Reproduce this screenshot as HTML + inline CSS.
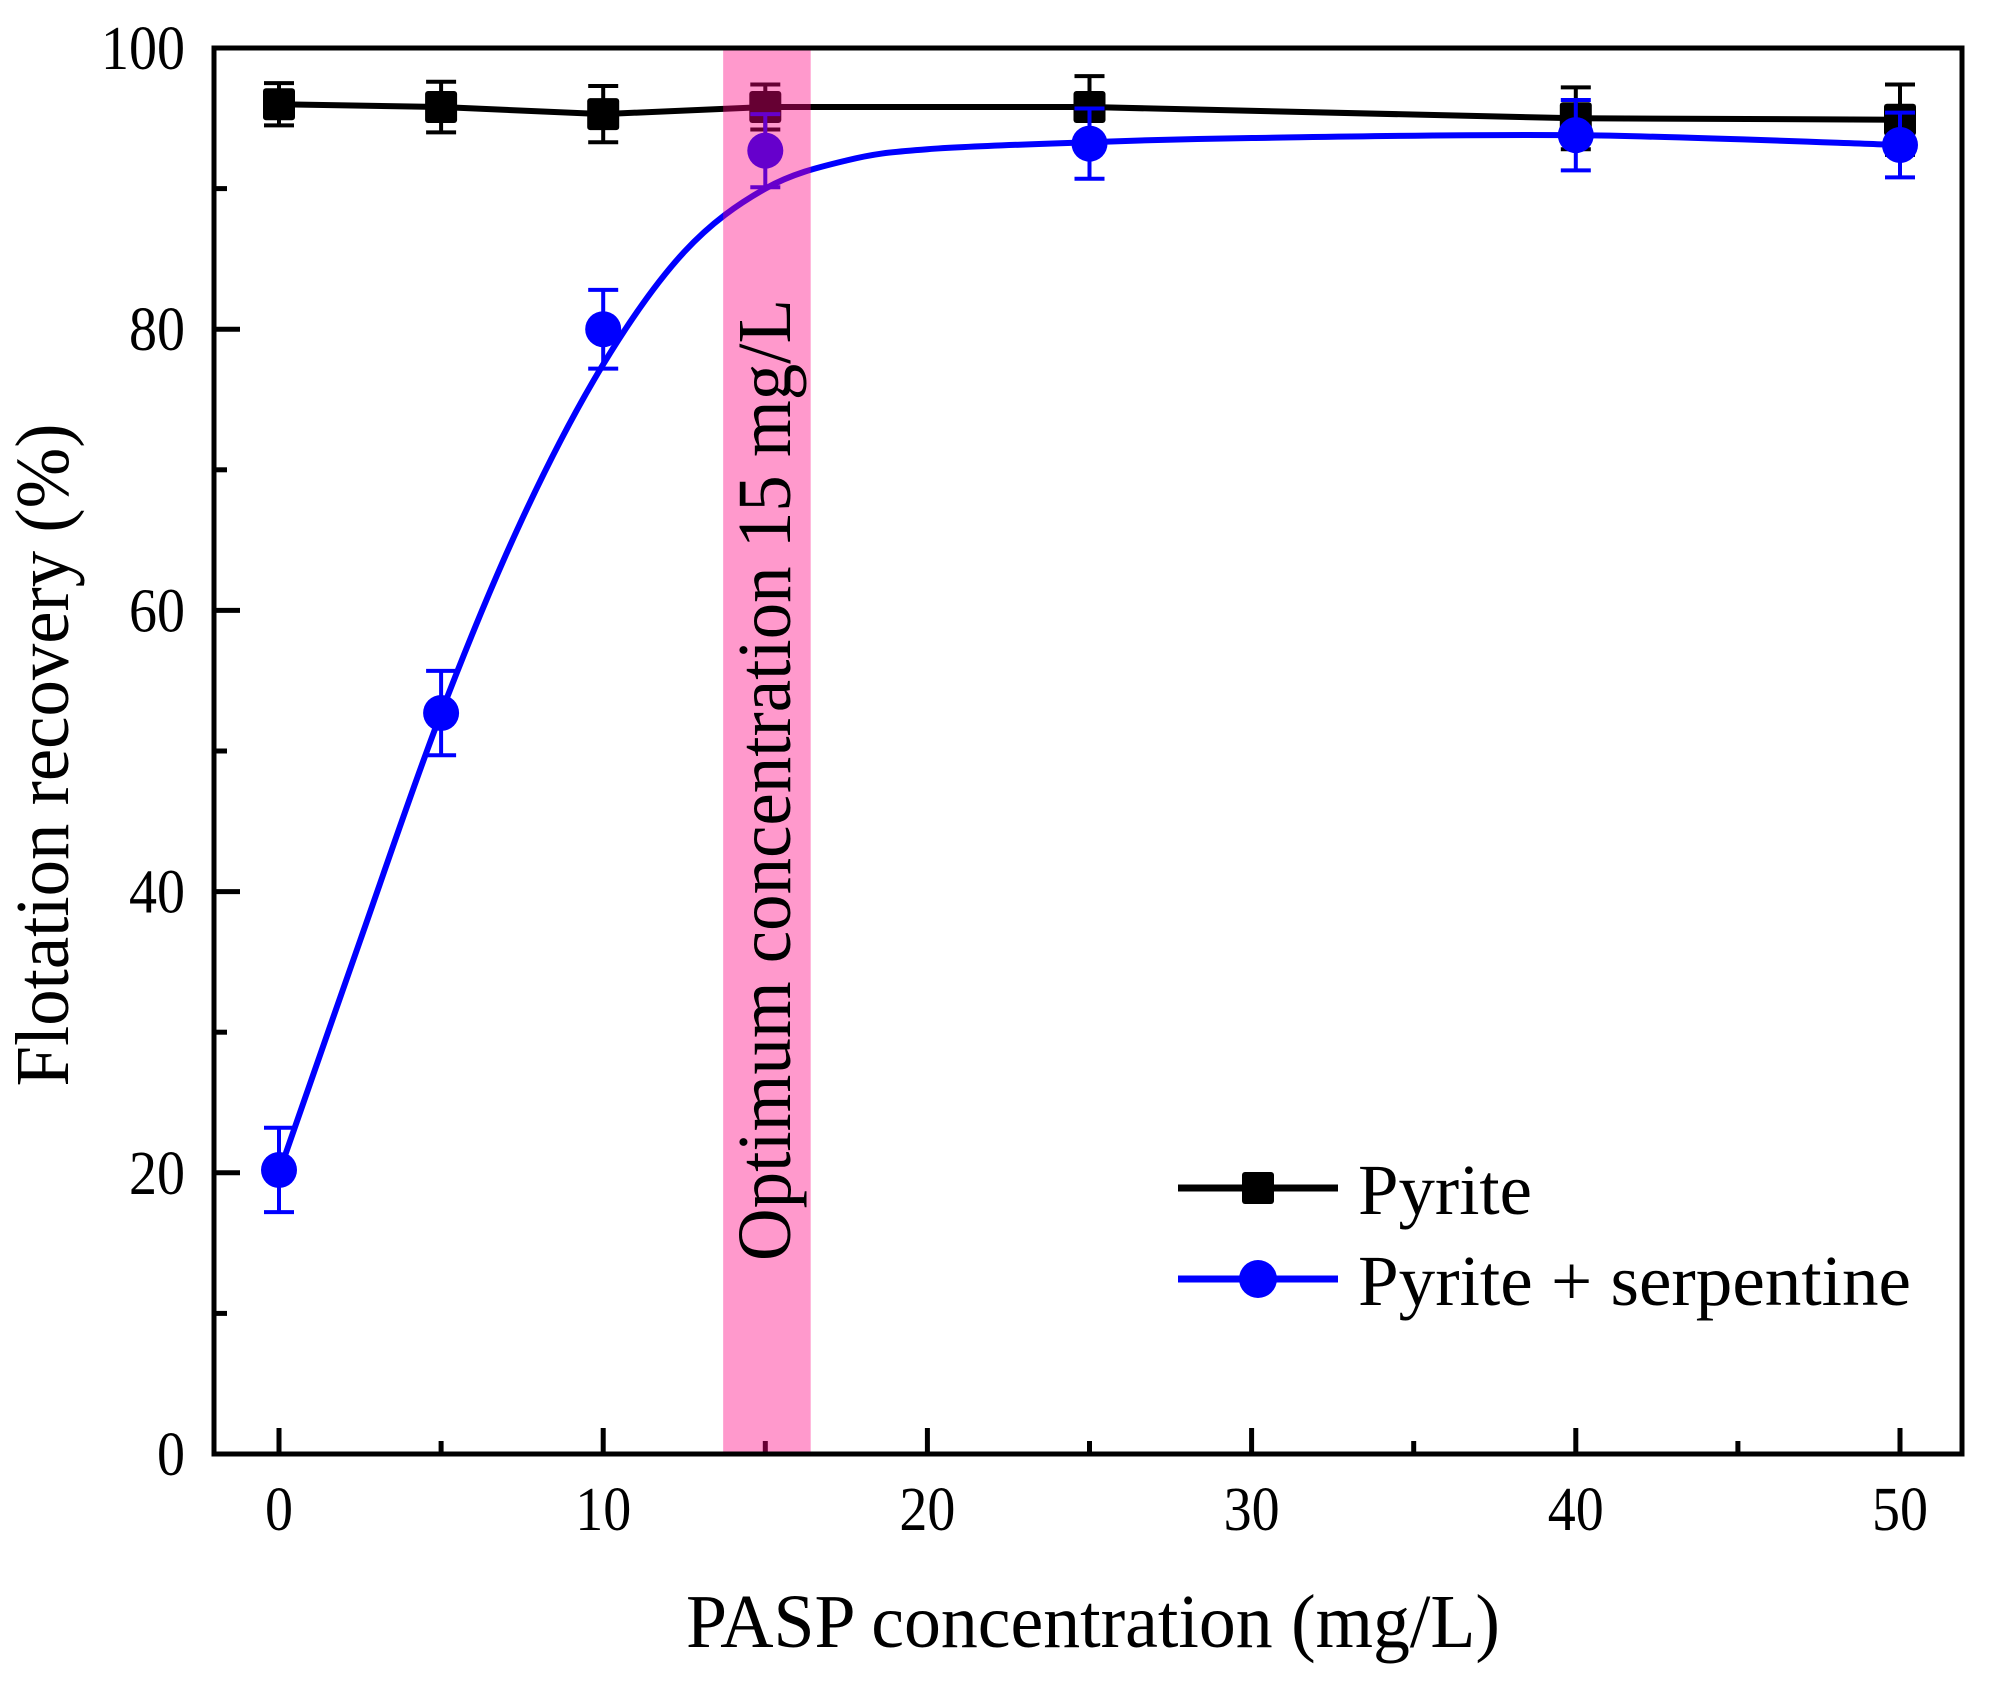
<!DOCTYPE html>
<html><head><meta charset="utf-8"><style>
html,body{margin:0;padding:0;background:#fff;}
svg{display:block;font-family:"Liberation Serif",serif;}
</style></head><body>
<svg id="chart" width="1998" height="1688" viewBox="0 0 1998 1688"></svg>
<script>
const categories = [0, 5, 10, 15, 25, 40, 50];
const pyriteValues = [96.0, 95.8, 95.3, 95.8, 95.8, 95.0, 94.9];
const pyriteErrors = [1.5, 1.8, 2.0, 1.6, 2.2, 2.2, 2.5];
const serpValues = [20.2, 52.7, 80.0, 92.7, 93.2, 93.8, 93.1];
const serpErrors = [3.0, 3.0, 2.8, 2.6, 2.5, 2.5, 2.3];
const fitX = [0, 2.5, 5, 7.5, 10, 12.5, 15, 17.5, 20, 25, 30, 40, 50];
const fitY = [20, 36.5, 52.7, 66.5, 77.5, 85.5, 90, 92, 92.8, 93.3, 93.6, 93.8, 93.1];
const xTicks = [0, 10, 20, 30, 40, 50];
const yTicks = [0, 20, 40, 60, 80, 100];
const bandRange = [13.7, 16.4];

const NS = "http://www.w3.org/2000/svg";
const svg = document.getElementById("chart");
const L = 214, R = 1962, T = 48, B = 1454;
const x = v => 279 + v * (1900 - 279) / 50;
const y = v => B - v * (B - T) / 100;
function mk(tag, attrs, parent) {
  const e = document.createElementNS(NS, tag);
  for (const k in attrs) e.setAttribute(k, attrs[k]);
  (parent || svg).appendChild(e);
  return e;
}
function line(x1, y1, x2, y2, col, w, p) { return mk("line", {x1, y1, x2, y2, stroke: col, "stroke-width": w}, p); }

const ticks = mk("g", {});


for (let v = 0; v <= 50; v += 5) {
  const major = v % 10 === 0;
  line(x(v), B, x(v), B - (major ? 26 : 13), "#000", 5, ticks);
}
for (let v = 0; v <= 100; v += 10) {
  const major = v % 20 === 0;
  line(L, y(v), L + (major ? 26 : 13), y(v), "#000", 5, ticks);
}
xTicks.forEach(v => {
  const s = String(v);
  const t = mk("text", {x: x(v), y: 1530, "text-anchor": "middle", "font-size": 62, textLength: s.length * 28, lengthAdjust: "spacingAndGlyphs"});
  t.textContent = s;
  
  
});
yTicks.forEach(v => {
  const s = String(v);
  const t = mk("text", {x: 185, y: y(v) + 21, "text-anchor": "end", "font-size": 62, textLength: s.length * 28, lengthAdjust: "spacingAndGlyphs"});
  t.textContent = s;
  
  
});

const gP = mk("g", {});


mk("polyline", {points: categories.map((c, i) => x(c) + "," + y(pyriteValues[i])).join(" "), fill: "none", stroke: "#000", "stroke-width": 6}, gP);
categories.forEach((c, i) => {
  const cx = x(c), v = pyriteValues[i], e = pyriteErrors[i];
  line(cx, y(v - e), cx, y(v + e), "#000", 4, gP);
  line(cx - 15, y(v - e), cx + 15, y(v - e), "#000", 4, gP);
  line(cx - 15, y(v + e), cx + 15, y(v + e), "#000", 4, gP);
  const r = mk("rect", {x: cx - 16, y: y(v) - 16, width: 32, height: 32, rx: 3, fill: "#000"}, gP);
  
  
});

const gS = mk("g", {});


const pts = fitX.map((v, i) => [x(v), y(fitY[i])]);
let d = "M" + pts[0][0] + "," + pts[0][1];
for (let i = 0; i < pts.length - 1; i++) {
  const p0 = pts[Math.max(i - 1, 0)], p1 = pts[i], p2 = pts[i + 1], p3 = pts[Math.min(i + 2, pts.length - 1)];
  const c1 = [p1[0] + (p2[0] - p0[0]) / 6, p1[1] + (p2[1] - p0[1]) / 6];
  const c2 = [p2[0] - (p3[0] - p1[0]) / 6, p2[1] - (p3[1] - p1[1]) / 6];
  d += " C" + c1 + " " + c2 + " " + p2;
}
const fit = mk("path", {d, fill: "none", stroke: "#0000ff", "stroke-width": 6}, gS);


categories.forEach((c, i) => {
  const cx = x(c), v = serpValues[i], e = serpErrors[i];
  line(cx, y(v - e), cx, y(v + e), "#0000ff", 4, gS);
  line(cx - 15, y(v - e), cx + 15, y(v - e), "#0000ff", 4, gS);
  line(cx - 15, y(v + e), cx + 15, y(v + e), "#0000ff", 4, gS);
  const ci = mk("circle", {cx, cy: y(v), r: 18, fill: "#0000ff"}, gS);
  
  
});

const band = mk("rect", {x: x(bandRange[0]), y: T, width: x(bandRange[1]) - x(bandRange[0]), height: B - T, fill: "#ff0080", "fill-opacity": 0.4});


const ann = mk("text", {x: 0, y: 0, "font-size": 76, "text-anchor": "middle", transform: "translate(790,780) rotate(-90)", textLength: 962, lengthAdjust: "spacingAndGlyphs"});
ann.textContent = "Optimum concentration 15 mg/L";



const frame = mk("rect", {x: L, y: T, width: R - L, height: B - T, fill: "none", stroke: "#000", "stroke-width": 5});



const xt = mk("text", {x: 1093, y: 1647, "text-anchor": "middle", "font-size": 76, textLength: 814, lengthAdjust: "spacingAndGlyphs"});
xt.textContent = "PASP concentration (mg/L)";


const yt = mk("text", {x: 0, y: 0, "text-anchor": "middle", "font-size": 76, transform: "translate(68,755) rotate(-90)", textLength: 663, lengthAdjust: "spacingAndGlyphs"});
yt.textContent = "Flotation recovery (%)";



const lg = mk("g", {});


const e1 = mk("g", {}, lg);


line(1178, 1188, 1338, 1188, "#000", 7, e1);
mk("rect", {x: 1242, y: 1172, width: 32, height: 32, rx: 3, fill: "#000"}, e1);
const t1 = mk("text", {x: 1358, y: 1214, "font-size": 72, textLength: 174, lengthAdjust: "spacingAndGlyphs"}, e1);
t1.textContent = "Pyrite";
const e2 = mk("g", {}, lg);


line(1178, 1279, 1338, 1279, "#0000ff", 7, e2);
mk("circle", {cx: 1258, cy: 1279, r: 19, fill: "#0000ff"}, e2);
const t2 = mk("text", {x: 1358, y: 1305, "font-size": 72, textLength: 553, lengthAdjust: "spacingAndGlyphs"}, e2);
t2.textContent = "Pyrite + serpentine";
</script>
</body></html>
